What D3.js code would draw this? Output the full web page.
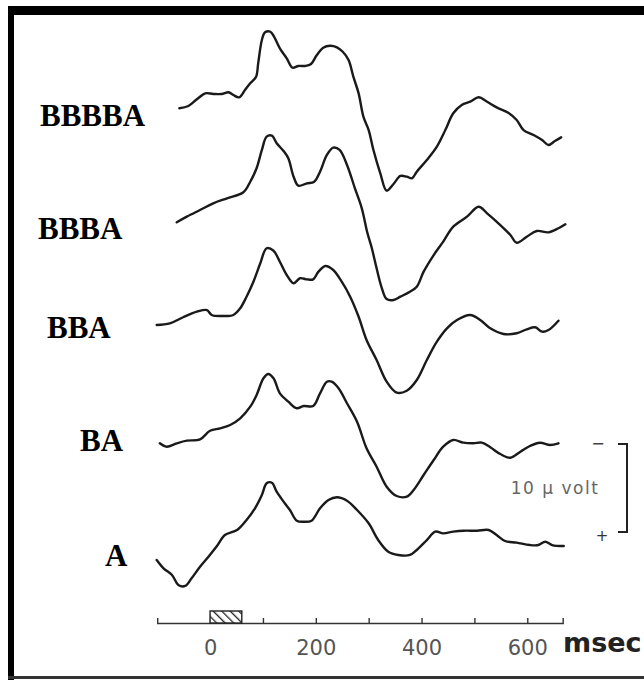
<!DOCTYPE html>
<html>
<head>
<meta charset="utf-8">
<script src="https://cdn.jsdelivr.net/npm/d3@7"></script>
<style>
  html, body { margin: 0; padding: 0; background: #fff; }
  svg { display: block; }
</style>
</head>
<body>
<script>
// Averaged evoked potentials to the final "A" stimulus after runs of "B" stimuli.
// Each trace: [time in ms, amplitude in µV] (negative up).
const conditions = ["BBBBA", "BBBA", "BBA", "BA", "A"];

const traceBBBBA = [
  [-58, 0], [-41, -0.26], [-25, -1.02], [-9, -1.70], [6, -1.63], [22, -1.63], [35, -1.82],
  [44, -1.51], [55, -1.25], [66, -2.08], [76, -2.84], [87, -3.59], [91, -5.11], [98, -7.76],
  [104, -8.64], [114, -8.70], [121, -8.14], [132, -6.82], [145, -5.68], [156, -4.61],
  [167, -4.81], [180, -4.81], [191, -5.03], [202, -6.06], [214, -6.89], [227, -7.11],
  [240, -6.93], [251, -6.43], [262, -5.49], [271, -3.59], [281, -1.70], [290, 0.95],
  [300, 2.47], [309, 4.74], [322, 7.39], [334, 9.36], [347, 8.60], [360, 7.69], [372, 7.77],
  [382, 7.95], [391, 7.20], [410, 5.88], [429, 4.36], [445, 2.47], [460, 0.57], [476, -0.38],
  [492, -0.75], [508, -1.25], [524, -0.75], [542, -0.11], [564, 0.50], [580, 1.33],
  [593, 2.47], [612, 3.03], [628, 3.60], [640, 4.17], [653, 3.68], [664, 3.30]
];

const traceBBBA = [
  [-63, 0], [-44, -0.64], [-19, -1.40], [6, -2.16], [32, -2.73], [63, -3.41], [76, -4.61],
  [88, -6.14], [98, -8.22], [107, -9.73], [117, -9.84], [126, -8.98], [139, -8.10],
  [148, -7.27], [158, -5.18], [167, -4.16], [183, -4.43], [197, -4.61], [208, -5.75],
  [221, -7.65], [233, -8.48], [245, -8.22], [259, -6.52], [274, -3.86], [287, -1.59],
  [297, 1.07], [306, 2.95], [315, 5.23], [325, 7.50], [334, 8.72], [347, 8.83], [360, 8.45],
  [378, 7.89], [391, 7.32], [404, 5.61], [423, 3.72], [441, 2.20], [460, 0.50], [486, -0.64],
  [508, -1.77], [524, -1.02], [549, 0.31], [568, 1.44], [580, 2.32], [599, 1.64],
  [618, 0.99], [640, 1.14], [659, 0.68], [672, 0.23]
];

const traceBBA = [
  [-101, 0], [-76, -0.19], [-51, -0.88], [-25, -1.51], [-6, -1.70], [3, -1.14], [22, -1.02],
  [44, -1.14], [57, -1.90], [69, -3.22], [82, -4.92], [95, -7.01], [107, -8.72], [120, -8.44],
  [132, -7.19], [145, -5.68], [158, -4.74], [170, -5.31], [183, -5.19], [195, -5.19],
  [205, -6.06], [218, -6.70], [233, -6.25], [249, -4.92], [265, -3.22], [281, -0.94],
  [296, 1.70], [315, 3.98], [334, 6.44], [353, 7.69], [372, 7.47], [391, 6.25], [410, 3.98],
  [429, 1.90], [448, 0.38], [467, -0.57], [492, -1.14], [511, -0.57], [530, 0.38],
  [555, 1.02], [580, 0.94], [599, 0.49], [615, 0.26], [628, 0.76], [640, 0.57], [659, -0.49]
];

const traceBA = [
  [-95, 0], [-82, 0.39], [-63, 0], [-44, -0.30], [-19, -0.45], [0, -1.43], [19, -1.70],
  [38, -2.08], [57, -2.84], [76, -4.16], [88, -5.49], [101, -7.39], [110, -7.88],
  [120, -7.39], [132, -5.68], [148, -4.73], [164, -3.98], [177, -4.24], [195, -4.24],
  [208, -5.68], [221, -7.00], [230, -7.00], [243, -6.25], [259, -4.55], [278, -2.45],
  [296, 0.57], [315, 2.66], [334, 4.93], [353, 5.99], [372, 6.07], [385, 5.31], [404, 3.60],
  [423, 1.90], [441, 0.39], [460, -0.38], [479, -0.07], [498, 0], [514, -0.07], [530, 0.45],
  [549, 1.22], [568, 1.64], [587, 0.95], [605, 0.31], [624, -0.07], [643, 0.19], [659, 0]
];

const traceA = [
  [-101, 0], [-88, 0.94], [-72, 1.70], [-60, 2.84], [-47, 2.95], [-35, 2.08], [-19, 0.76],
  [-3, -0.38], [13, -1.59], [28, -2.84], [51, -3.41], [69, -4.55], [85, -5.88], [98, -7.39],
  [107, -8.72], [117, -8.78], [126, -7.76], [139, -6.63], [151, -5.68], [164, -4.47],
  [177, -4.35], [192, -4.47], [208, -5.88], [224, -6.82], [240, -7.13], [259, -6.74],
  [278, -5.68], [300, -4.17], [318, -2.27], [337, -0.94], [356, -0.57], [378, -0.57],
  [391, -1.14], [410, -2.27], [426, -3.22], [441, -3.03], [460, -3.22], [479, -3.33],
  [505, -3.33], [527, -3.41], [542, -2.84], [558, -2.16], [580, -1.97], [605, -1.70],
  [621, -1.70], [634, -2.08], [647, -1.70], [669, -1.59]
];

const traces = [traceBBBBA, traceBBBA, traceBBA, traceBA, traceA];

// Time axis
const timeDomain = [-100, 667];
const tickTimes = [0, 100, 200, 300, 400, 500, 600];
const labelTimes = [0, 200, 400, 600];
const stimulus = [0, 60];      // stimulus duration, ms
const calibration = 10;        // µV

// ---- layout ----
const W = 644, H = 682;
const axisY = 623;
const rowBase = [108.3, 222.3, 325, 443.3, 560];     // baseline of each trace
const labelPos = [[40, 126], [38, 239], [47, 338], [80, 451], [105, 566]];
const pxPerMicroVolt = 8.8;

const svg = d3.select("body").append("svg")
  .attr("width", W).attr("height", H);

// frame
svg.append("rect").attr("x", 8).attr("y", 6).attr("width", W - 8).attr("height", 9).attr("fill", "#000");
svg.append("rect").attr("x", 8).attr("y", 6).attr("width", 6).attr("height", 674).attr("fill", "#000");
svg.append("rect").attr("x", 8).attr("y", 676).attr("width", W - 8).attr("height", 3).attr("fill", "#333");

const x = d3.scaleLinear().domain(timeDomain).range([157.2, 562.7]);
const amp = d3.scaleLinear().domain([0, 1]).range([0, pxPerMicroVolt]);

const line = d3.line()
  .x(d => x(d[0]))
  .curve(d3.curveCatmullRom.alpha(0.5));

traces.forEach((tr, i) => {
  line.y(d => rowBase[i] + amp(d[1]));
  svg.append("path")
    .attr("d", line(tr))
    .attr("fill", "none")
    .attr("stroke", "#1a1a1a")
    .attr("stroke-width", 2.4)
    .attr("stroke-linejoin", "round")
    .attr("stroke-linecap", "round");
});

// condition labels
svg.selectAll("text.cond").data(conditions).enter().append("text")
  .attr("class", "cond")
  .attr("x", (d, i) => labelPos[i][0])
  .attr("y", (d, i) => labelPos[i][1])
  .attr("font-family", "Liberation Serif, Times New Roman, serif")
  .attr("font-weight", "bold")
  .attr("font-size", 31)
  .attr("fill", "#000")
  .text(d => d);

// time axis (ticks pointing up)
const axis = d3.axisBottom(x)
  .tickValues(tickTimes)
  .tickSizeInner(-5)
  .tickSizeOuter(-5)
  .tickPadding(17)
  .tickFormat(d => labelTimes.includes(d) ? d3.format("d")(d) : "");

const gAxis = svg.append("g").attr("transform", `translate(0,${axisY})`).call(axis);
gAxis.select(".domain").attr("stroke", "#333").attr("stroke-width", 1.4);
gAxis.selectAll(".tick line").attr("stroke", "#333").attr("stroke-width", 1.4);
gAxis.selectAll(".tick text")
  .attr("font-family", "DejaVu Sans, sans-serif")
  .attr("font-size", 21)
  .attr("fill", "#555");

// stimulus marker
const defs = svg.append("defs");
const pat = defs.append("pattern")
  .attr("id", "hatch").attr("patternUnits", "userSpaceOnUse")
  .attr("width", 6).attr("height", 6)
  .attr("patternTransform", "rotate(-45)");
pat.append("rect").attr("width", 6).attr("height", 6).attr("fill", "#fff");
pat.append("line").attr("x1", 0).attr("y1", 0).attr("x2", 0).attr("y2", 6)
  .attr("stroke", "#222").attr("stroke-width", 2.6);

svg.append("rect")
  .attr("x", x(stimulus[0])).attr("y", axisY - 12)
  .attr("width", x(stimulus[1]) - x(stimulus[0])).attr("height", 12)
  .attr("fill", "url(#hatch)")
  .attr("stroke", "#222").attr("stroke-width", 1.4);

svg.append("text")
  .attr("x", 563).attr("y", 652)
  .attr("font-family", "DejaVu Sans, sans-serif")
  .attr("font-weight", "bold")
  .attr("font-size", 27)
  .attr("fill", "#222")
  .text("msec");

// calibration bar: 10 µV, negative up
const calTop = 444;
const calBot = calTop + amp(calibration);
const calX = 627;
const cal = svg.append("g").attr("stroke", "#222").attr("stroke-width", 2).attr("fill", "none");
cal.append("path").attr("d", `M${calX - 9},${calTop} H${calX} V${calBot} H${calX - 9}`);

svg.append("text").attr("x", 598).attr("y", calTop + 5)
  .attr("text-anchor", "middle").attr("font-family", "DejaVu Sans, sans-serif")
  .attr("font-size", 16).attr("fill", "#444").text("\u2212");
svg.append("text").attr("x", 602).attr("y", calBot + 9)
  .attr("text-anchor", "middle").attr("font-family", "DejaVu Sans, sans-serif")
  .attr("font-size", 15).attr("fill", "#333").text("+");
svg.append("text").attr("x", 555).attr("y", (calTop + calBot) / 2 + 6)
  .attr("text-anchor", "middle").attr("font-family", "DejaVu Sans, sans-serif")
  .attr("font-size", 17).attr("letter-spacing", 1.5).attr("fill", "#666")
  .text("10 \u03bc volt");
</script>
</body>
</html>
